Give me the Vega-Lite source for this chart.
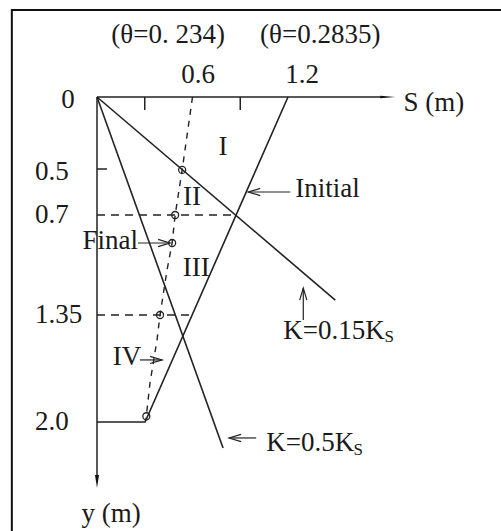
{
  "$schema": "https://vega.github.io/schema/vega-lite/v6.json",
  "width": 501,
  "height": 531,
  "autosize": {"type": "fit", "contains": "padding"},
  "padding": 0,
  "background": "white",
  "config": {"view": {"stroke": null}, "text": {"font": "Liberation Serif"}},
  "datasets": {
    "frame": [{"S": -0.535, "S2": 2.7, "y": -0.604, "y2": 2.8}],
    "axes": [
      {"series": "S-axis", "order": 0, "S": 0, "y": 0},
      {"series": "S-axis", "order": 1, "S": 1.8, "y": 0},
      {"series": "y-axis", "order": 0, "S": 0, "y": 0},
      {"series": "y-axis", "order": 1, "S": 0, "y": 2.33},
      {"series": "tick-0.3", "order": 0, "S": 0.3, "y": 0},
      {"series": "tick-0.3", "order": 1, "S": 0.3, "y": 0.09},
      {"series": "tick-0.9", "order": 0, "S": 0.9, "y": 0},
      {"series": "tick-0.9", "order": 1, "S": 0.9, "y": 0.09},
      {"series": "tick-y0.5", "order": 0, "S": 0, "y": 0.5},
      {"series": "tick-y0.5", "order": 1, "S": 0.063, "y": 0.5}
    ],
    "axisHeads": [
      {"axis": "S", "S": 1.874, "y": 0},
      {"axis": "y", "S": 0, "y": 2.401}
    ],
    "solid": [
      {"series": "K=0.15Ks", "order": 0, "S": 0, "y": 0},
      {"series": "K=0.15Ks", "order": 1, "S": 1.497, "y": 1.253},
      {"series": "K=0.5Ks", "order": 0, "S": 0, "y": 0},
      {"series": "K=0.5Ks", "order": 1, "S": 0.792, "y": 2.158},
      {"series": "initial", "order": 0, "S": 1.2, "y": 0},
      {"series": "initial", "order": 1, "S": 0.302, "y": 2.0},
      {"series": "initial", "order": 2, "S": 0, "y": 2.0}
    ],
    "finalCurve": [
      {"order": 0, "S": 0.6, "y": 0.0},
      {"order": 1, "S": 0.535, "y": 0.504},
      {"order": 2, "S": 0.491, "y": 0.7},
      {"order": 3, "S": 0.472, "y": 0.882},
      {"order": 4, "S": 0.44, "y": 1.058},
      {"order": 5, "S": 0.396, "y": 1.35},
      {"order": 6, "S": 0.377, "y": 1.502},
      {"order": 7, "S": 0.333, "y": 1.763},
      {"order": 8, "S": 0.308, "y": 1.98}
    ],
    "guides": [
      {"series": "y=0.7", "order": 0, "S": 0, "y": 0.7},
      {"series": "y=0.7", "order": 1, "S": 0.874, "y": 0.7},
      {"series": "y=1.35", "order": 0, "S": 0, "y": 1.35},
      {"series": "y=1.35", "order": 1, "S": 0.597, "y": 1.35}
    ],
    "markers": [
      {"S": 0.535, "y": 0.504},
      {"S": 0.491, "y": 0.7},
      {"S": 0.472, "y": 0.882},
      {"S": 0.396, "y": 1.35},
      {"S": 0.31, "y": 1.965}
    ],
    "pointers": [
      {"series": "Initial", "order": 0, "S": 1.214, "y": 0.6},
      {"series": "Initial", "order": 1, "S": 0.95, "y": 0.6},
      {"series": "Final", "order": 0, "S": 0.258, "y": 0.882},
      {"series": "Final", "order": 1, "S": 0.459, "y": 0.882},
      {"series": "IV", "order": 0, "S": 0.27, "y": 1.623},
      {"series": "IV", "order": 1, "S": 0.409, "y": 1.623},
      {"series": "K15", "order": 0, "S": 1.296, "y": 1.38},
      {"series": "K15", "order": 1, "S": 1.296, "y": 1.175},
      {"series": "K05", "order": 0, "S": 1.0, "y": 2.097},
      {"series": "K05", "order": 1, "S": 0.83, "y": 2.097}
    ],
    "pointerHeads": [
      {"dir": "left", "S": 0.95, "y": 0.6},
      {"dir": "right", "S": 0.459, "y": 0.882},
      {"dir": "right", "S": 0.409, "y": 1.623},
      {"dir": "up", "S": 1.296, "y": 1.175},
      {"dir": "left", "S": 0.83, "y": 2.097}
    ],
    "labelsCenter": [
      {"label": "(θ=0. 234)", "S": 0.447, "y": -0.431},
      {"label": "(θ=0.2835)", "S": 1.403, "y": -0.431},
      {"label": "0.6", "S": 0.635, "y": -0.153},
      {"label": "1.2", "S": 1.289, "y": -0.153},
      {"label": "0", "S": -0.182, "y": 0.02},
      {"label": "y (m)", "S": 0.088, "y": 2.559},
      {"label": "I", "S": 0.792, "y": 0.347},
      {"label": "II", "S": 0.597, "y": 0.622},
      {"label": "III", "S": 0.623, "y": 1.045},
      {"label": "IV", "S": 0.189, "y": 1.605}
    ],
    "labelsLeft": [
      {"label": "S (m)", "S": 1.925, "y": 0.04},
      {"label": "0.5", "S": -0.39, "y": 0.515},
      {"label": "0.7", "S": -0.39, "y": 0.7},
      {"label": "1.35", "S": -0.39, "y": 1.35},
      {"label": "2.0", "S": -0.39, "y": 2.0},
      {"label": "Initial", "S": 1.245, "y": 0.587},
      {"label": "K=0.15K", "S": 1.17, "y": 1.447},
      {"label": "K=0.5K", "S": 1.063, "y": 2.128}
    ],
    "labelsRight": [
      {"label": "Final", "S": 0.258, "y": 0.869}
    ],
    "subscripts": [
      {"label": "S", "S": 1.836, "y": 1.484},
      {"label": "S", "S": 1.642, "y": 2.17}
    ]
  },
  "encoding": {
    "x": {"field": "S", "type": "quantitative", "axis": null,
          "scale": {"domain": [0, 1.2], "range": [97, 288], "nice": false, "zero": false}},
    "y": {"field": "y", "type": "quantitative", "axis": null,
          "scale": {"domain": [0, 0.5, 0.7, 1.35, 2.0], "range": [97, 169, 215, 315, 422], "nice": false, "zero": false}}
  },
  "layer": [
    {
      "data": {"name": "frame"},
      "mark": {"type": "rect", "filled": false, "stroke": "#111", "strokeWidth": 2},
      "encoding": {"x2": {"field": "S2"}, "y2": {"field": "y2"}}
    },
    {
      "data": {"name": "axes"},
      "mark": {"type": "line", "color": "#222", "strokeWidth": 1.5},
      "encoding": {"detail": {"field": "series"}, "order": {"field": "order"}}
    },
    {
      "data": {"name": "axisHeads"},
      "transform": [{"filter": "datum.axis === 'S'"}],
      "mark": {"type": "point", "shape": "M0,0L-2,-0.17L-2,0.17Z", "size": 225, "filled": true, "color": "#111", "opacity": 1, "strokeWidth": 0}
    },
    {
      "data": {"name": "axisHeads"},
      "transform": [{"filter": "datum.axis === 'y'"}],
      "mark": {"type": "point", "shape": "M0,0L-0.31,-2L0.31,-2Z", "size": 169, "filled": true, "color": "#111", "opacity": 1, "strokeWidth": 0}
    },
    {
      "data": {"name": "solid"},
      "mark": {"type": "line", "color": "#222", "strokeWidth": 1.6},
      "encoding": {"detail": {"field": "series"}, "order": {"field": "order"}}
    },
    {
      "data": {"name": "finalCurve"},
      "mark": {"type": "line", "color": "#222", "strokeWidth": 1.4, "strokeDash": [6, 6]},
      "encoding": {"order": {"field": "order"}}
    },
    {
      "data": {"name": "guides"},
      "mark": {"type": "line", "color": "#222", "strokeWidth": 1.4, "strokeDash": [8, 6]},
      "encoding": {"detail": {"field": "series"}, "order": {"field": "order"}}
    },
    {
      "data": {"name": "markers"},
      "mark": {"type": "point", "shape": "circle", "size": 49, "filled": false, "color": "#222", "strokeWidth": 1.3, "opacity": 1}
    },
    {
      "data": {"name": "pointers"},
      "mark": {"type": "line", "color": "#222", "strokeWidth": 1.2},
      "encoding": {"detail": {"field": "series"}, "order": {"field": "order"}}
    },
    {
      "data": {"name": "pointerHeads"},
      "transform": [{"filter": "datum.dir === 'left'"}],
      "mark": {"type": "point", "shape": "M2,-0.6L0,0L2,0.6", "size": 144, "filled": false, "color": "#222", "strokeWidth": 1.2, "opacity": 1}
    },
    {
      "data": {"name": "pointerHeads"},
      "transform": [{"filter": "datum.dir === 'right'"}],
      "mark": {"type": "point", "shape": "M-2,-0.6L0,0L-2,0.6", "size": 144, "filled": false, "color": "#222", "strokeWidth": 1.2, "opacity": 1}
    },
    {
      "data": {"name": "pointerHeads"},
      "transform": [{"filter": "datum.dir === 'up'"}],
      "mark": {"type": "point", "shape": "M-0.6,2L0,0L0.6,2", "size": 144, "filled": false, "color": "#222", "strokeWidth": 1.2, "opacity": 1}
    },
    {
      "data": {"name": "labelsCenter"},
      "mark": {"type": "text", "fontSize": 27, "align": "center", "baseline": "middle", "color": "#1a1a1a"},
      "encoding": {"text": {"field": "label"}}
    },
    {
      "data": {"name": "labelsLeft"},
      "mark": {"type": "text", "fontSize": 27, "align": "left", "baseline": "middle", "color": "#1a1a1a"},
      "encoding": {"text": {"field": "label"}}
    },
    {
      "data": {"name": "labelsRight"},
      "mark": {"type": "text", "fontSize": 27, "align": "right", "baseline": "middle", "color": "#1a1a1a"},
      "encoding": {"text": {"field": "label"}}
    },
    {
      "data": {"name": "subscripts"},
      "mark": {"type": "text", "fontSize": 17, "align": "center", "baseline": "middle", "color": "#1a1a1a"},
      "encoding": {"text": {"field": "label"}}
    }
  ]
}
